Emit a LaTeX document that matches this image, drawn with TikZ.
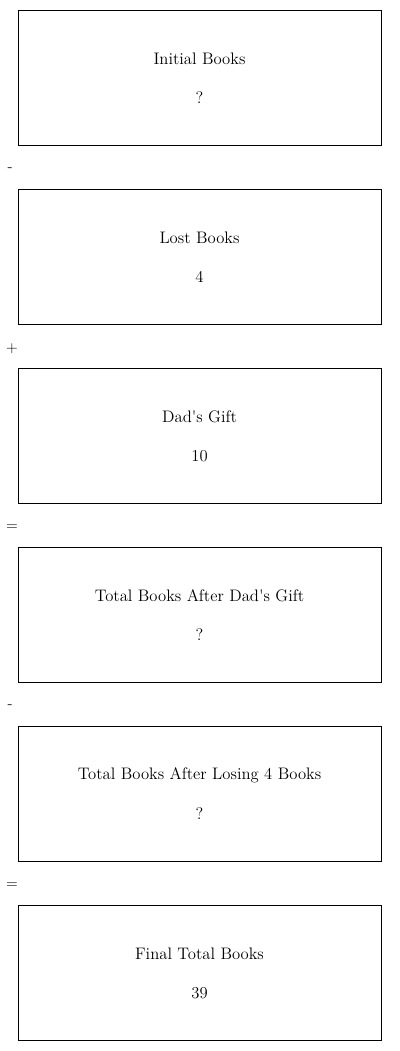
\documentclass[tikz,border=0pt]{standalone}
\begin{document}
\begin{tikzpicture}[x=0.75pt,y=-0.75pt,
  box/.style={draw=black,line width=0.6pt,minimum width=272.25pt,minimum height=101.25pt,inner sep=0pt},
  lbl/.style={font=\fontsize{12.5}{14}\selectfont,inner sep=0pt,anchor=center},
  op/.style={font=\fontsize{11.5}{13}\selectfont,inner sep=0pt,anchor=center}]
\useasboundingbox (0,0) rectangle (400,1051);
\foreach \n/\y/\t/\v in {b1/77.5/Initial Books/?, b2/256.5/Lost Books/4, b3/435.5/Dad\textquotesingle s Gift/10, b4/614.5/Total Books After Dad\textquotesingle s Gift/?, b5/793.5/Total Books After Losing 4 Books/?, b6/972.5/Final Total Books/39}{
  \node[box] (\n) at (199.5,\y) {};
  \node[lbl] (\n t) at ([yshift=13.9pt]\n.center) {\t};
  \node[lbl] (\n v) at ([yshift=-15.4pt]\n.center) {\v};
}
\node[op] (o1) at (10,170) {-};
\node[op] (o2) at (12,349) {+};
\node[op] (o3) at (12,528) {=};
\node[op] (o4) at (10,707) {-};
\node[op] (o5) at (12,886) {=};
\end{tikzpicture}
\end{document}
